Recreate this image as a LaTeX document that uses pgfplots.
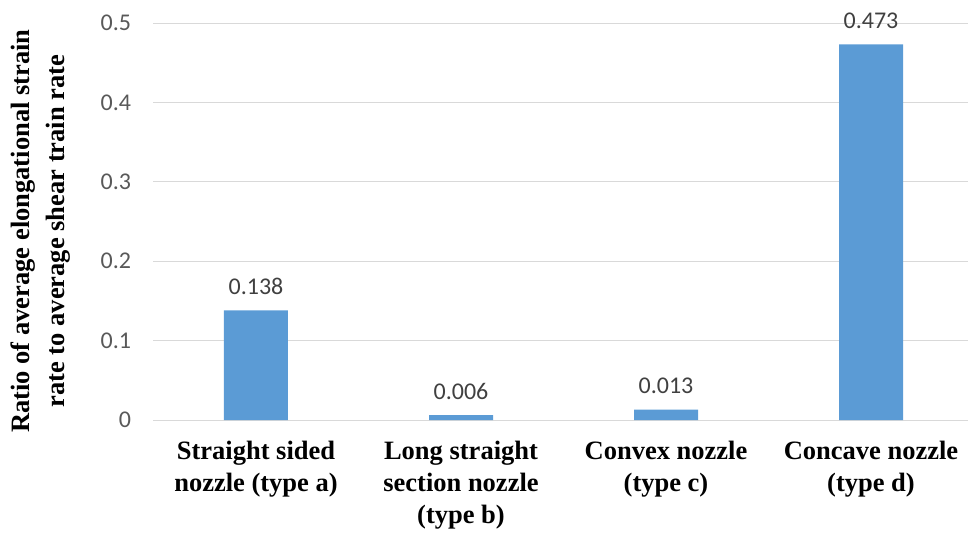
\documentclass[border=0pt]{standalone}
\usepackage{fontspec}
\setmainfont{Liberation Serif}
\newfontfamily\calibri{Carlito}
\usepackage{pgfplots}
\pgfplotsset{compat=1.18}
\definecolor{barblue}{HTML}{5B9BD5}
\definecolor{gridgray}{HTML}{D9D9D9}
\definecolor{ticktext}{HTML}{595959}
\definecolor{labeltext}{HTML}{404040}
\begin{document}
\begin{tikzpicture}
\begin{axis}[
  at={(0,0)}, anchor=south west,
  scale only axis,
  width=820bp, height=397bp,
  xmin=-0.5, xmax=3.5, ymin=0, ymax=0.5,
  ytick={0,0.1,0.2,0.3,0.4,0.5},
  xtick={0,1,2,3},
  xticklabels={{Straight sided\\nozzle (type a)},{Long straight\\section nozzle\\(type b)},{Convex nozzle\\(type c)},{Concave nozzle\\(type d)}},
  major tick length=0pt,
  axis line style={draw=none},
  ymajorgrids,
  grid style={color=gridgray, line width=1bp},
  /pgf/number format/assume math mode=true,
  yticklabel style={font=\fontsize{24bp}{28bp}\selectfont\calibri, color=ticktext, xshift=-19bp},
  xticklabel style={font=\fontsize{26.5bp}{32bp}\selectfont\bfseries, align=center, color=black, yshift=-18bp},
  ylabel={Ratio of average elongational strain\\rate to average shear train rate},
  ylabel style={font=\fontsize{26.5bp}{35bp}\selectfont\bfseries, align=center, at={(axis description cs:0,0.476)}, anchor=center, rotate=0, yshift=112.5bp},
  ybar, bar width=64bp, bar shift=0pt,
  point meta=explicit symbolic,
  nodes near coords,
  nodes near coords style={font=\fontsize{24bp}{28bp}\selectfont\calibri, color=labeltext, yshift=12bp},
]
\addplot[fill=barblue, draw=none] coordinates {
  (0,0.138) [0.138]
  (1,0.006) [0.006]
  (2,0.013) [0.013]
  (3,0.473) [0.473]
};
\end{axis}
\pgfresetboundingbox
\path (-153.5bp,-117bp) rectangle (814.5bp,420bp);
\end{tikzpicture}
\end{document}
